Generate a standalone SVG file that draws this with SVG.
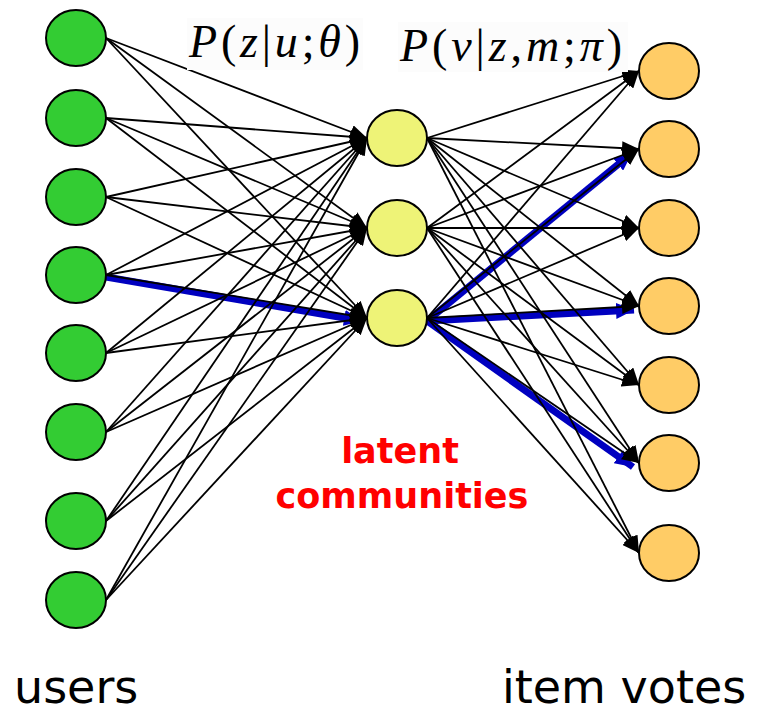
<svg xmlns="http://www.w3.org/2000/svg" width="762" height="713" viewBox="0 0 762 713">
<style>
.e{fill:none;stroke:#000;stroke-width:1.8;marker-end:url(#ah)}
.b{fill:none;stroke:#0000c0;stroke-width:7;marker-end:url(#ahb)}
.n{stroke:#000;stroke-width:2}
.g{fill:#33cc33}
.y{fill:#eef377}
.o{fill:#ffcc66}
.m{font-family:"Liberation Serif","DejaVu Serif",serif;font-size:46px;fill:#000}
.lat{font-family:"DejaVu Sans",sans-serif;font-weight:bold;font-size:35px;fill:#ff0000;text-anchor:middle}
.cap{font-family:"DejaVu Sans",sans-serif;font-size:46px;fill:#000}
</style>
<defs>
<marker id="ah" markerWidth="17" markerHeight="14" refX="17" refY="7" orient="auto" markerUnits="userSpaceOnUse"><path d="M0,0 L17,7 L0,14 z" fill="#000"/></marker>
<marker id="ahb" markerWidth="18" markerHeight="16" refX="18" refY="8" orient="auto" markerUnits="userSpaceOnUse"><path d="M0,0 L18,8 L0,16 z" fill="#0000c0"/></marker>
</defs>
<rect width="762" height="713" fill="#fff"/>
<g id="connectors">
<path class="b" d="M106 277L362 321"/>
<path class="b" d="M427 321L632 153"/>
<path class="b" d="M427 321L634 310"/>
<path class="b" d="M427 321L633 467"/>
<path class="e" d="M106 38L367 138"/><path class="e" d="M106 38L367 228"/><path class="e" d="M106 38L367 318"/>
<path class="e" d="M106 118L367 138"/><path class="e" d="M106 118L367 228"/><path class="e" d="M106 118L367 318"/>
<path class="e" d="M106 197L367 138"/><path class="e" d="M106 197L367 228"/><path class="e" d="M106 197L367 318"/>
<path class="e" d="M106 275L367 138"/><path class="e" d="M106 275L367 228"/><path class="e" d="M106 275L367 318"/>
<path class="e" d="M106 353L367 138"/><path class="e" d="M106 353L367 228"/><path class="e" d="M106 353L367 318"/>
<path class="e" d="M106 432L367 138"/><path class="e" d="M106 432L367 228"/><path class="e" d="M106 432L367 318"/>
<path class="e" d="M106 521L367 138"/><path class="e" d="M106 521L367 228"/><path class="e" d="M106 521L367 318"/>
<path class="e" d="M106 600L367 138"/><path class="e" d="M106 600L367 228"/><path class="e" d="M106 600L367 318"/>
<path class="e" d="M427 138L639 71"/><path class="e" d="M427 138L639 149"/><path class="e" d="M427 138L639 228"/><path class="e" d="M427 138L639 306"/><path class="e" d="M427 138L639 385"/><path class="e" d="M427 138L639 463"/><path class="e" d="M427 138L639 553"/>
<path class="e" d="M427 228L639 71"/><path class="e" d="M427 228L639 149"/><path class="e" d="M427 228L639 228"/><path class="e" d="M427 228L639 306"/><path class="e" d="M427 228L639 385"/><path class="e" d="M427 228L639 463"/><path class="e" d="M427 228L639 553"/>
<path class="e" d="M427 318L639 71"/><path class="e" d="M427 318L639 149"/><path class="e" d="M427 318L639 228"/><path class="e" d="M427 318L639 306"/><path class="e" d="M427 318L639 385"/><path class="e" d="M427 318L639 463"/><path class="e" d="M427 318L639 553"/>
</g>
<g id="user1"><ellipse class="n g" cx="76" cy="38" rx="30" ry="28"/></g>
<g id="user2"><ellipse class="n g" cx="76" cy="118" rx="30" ry="28"/></g>
<g id="user3"><ellipse class="n g" cx="76" cy="197" rx="30" ry="28"/></g>
<g id="user4"><ellipse class="n g" cx="76" cy="275" rx="30" ry="28"/></g>
<g id="user5"><ellipse class="n g" cx="76" cy="353" rx="30" ry="28"/></g>
<g id="user6"><ellipse class="n g" cx="76" cy="432" rx="30" ry="28"/></g>
<g id="user7"><ellipse class="n g" cx="76" cy="521" rx="30" ry="28"/></g>
<g id="user8"><ellipse class="n g" cx="76" cy="600" rx="30" ry="28"/></g>
<g id="community1"><ellipse class="n y" cx="397" cy="138" rx="30" ry="28"/></g>
<g id="community2"><ellipse class="n y" cx="397" cy="228" rx="30" ry="28"/></g>
<g id="community3"><ellipse class="n y" cx="397" cy="318" rx="30" ry="28"/></g>
<g id="item1"><ellipse class="n o" cx="669" cy="71" rx="30" ry="28"/></g>
<g id="item2"><ellipse class="n o" cx="669" cy="149" rx="30" ry="28"/></g>
<g id="item3"><ellipse class="n o" cx="669" cy="228" rx="30" ry="28"/></g>
<g id="item4"><ellipse class="n o" cx="669" cy="306" rx="30" ry="28"/></g>
<g id="item5"><ellipse class="n o" cx="669" cy="385" rx="30" ry="28"/></g>
<g id="item6"><ellipse class="n o" cx="669" cy="463" rx="30" ry="28"/></g>
<g id="item7"><ellipse class="n o" cx="669" cy="553" rx="30" ry="28"/></g>
<g id="label-pz">
<rect x="187" y="18" width="176" height="52" fill="#fcfcfc"/>
<text class="m" x="189" y="57" textLength="171" lengthAdjust="spacing"><tspan font-style="italic">P</tspan>(<tspan font-style="italic">z</tspan>|<tspan font-style="italic">u</tspan>;<tspan font-style="italic">θ</tspan>)</text>
</g>
<g id="label-pv">
<rect x="398" y="22" width="230" height="50" fill="#fcfcfc"/>
<text class="m" x="400" y="61" textLength="222" lengthAdjust="spacing"><tspan font-style="italic">P</tspan>(<tspan font-style="italic">v</tspan>|<tspan font-style="italic">z</tspan>,<tspan font-style="italic">m</tspan>;<tspan font-style="italic">π</tspan>)</text>
</g>
<g id="label-latent">
<text class="lat" x="400" y="463">latent</text>
<text class="lat" x="402" y="508">communities</text>
</g>
<text class="cap" x="14" y="703">users</text>
<text class="cap" x="502" y="703">item votes</text>
</svg>
